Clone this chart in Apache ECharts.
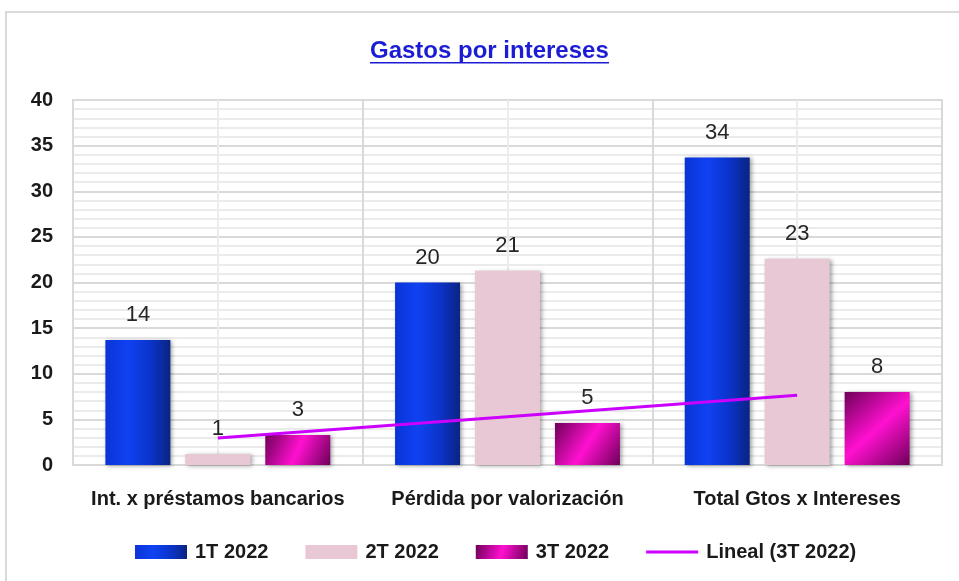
<!DOCTYPE html>
<html>
<head>
<meta charset="utf-8">
<script src="https://cdn.jsdelivr.net/npm/echarts@6/dist/echarts.min.js"></script>
<style>
html,body{margin:0;padding:0;background:#fff;}
#chart{width:959px;height:581px;}
</style>
</head>
<body>
<div id="chart"></div>
<script>
const categories = ['Int. x préstamos bancarios', 'Pérdida por valorización', 'Total Gtos x Intereses'];
const q1 = [13.7, 20.0, 33.7];
const q2 = [1.2, 21.3, 22.6];
const q3 = [3.3, 4.6, 8.0];
const seriesNames = ['1T 2022', '2T 2022', '3T 2022', 'Lineal (3T 2022)'];
const yTicks = { min: 0, max: 40, interval: 5 };

// linear regression trend line of 3T values (like Excel "Lineal")
function linearTrend(vals) {
  const n = vals.length;
  let sx = 0, sy = 0, sxy = 0, sxx = 0;
  vals.forEach((v, i) => { const x = i + 1; sx += x; sy += v; sxy += x * v; sxx += x * x; });
  const b = (n * sxy - sx * sy) / (n * sxx - sx * sx);
  const a = (sy - b * sx) / n;
  return vals.map((v, i) => +(a + b * (i + 1)).toFixed(3));
}
const trend = linearTrend(q3);

const FONT = '"Liberation Sans", Arial, sans-serif';

const blueGrad = new echarts.graphic.LinearGradient(0, 0, 1, 0, [
  { offset: 0, color: '#0a34d6' },
  { offset: 0.35, color: '#1042f2' },
  { offset: 0.7, color: '#0b33c8' },
  { offset: 1, color: '#0a2482' }
]);
const pink = '#e8c8d4';
const magGrad = new echarts.graphic.LinearGradient(0, 0, 1, 1, [
  { offset: 0, color: '#6e0058' },
  { offset: 0.5, color: '#ff10d0' },
  { offset: 1, color: '#6e0058' }
]);

const shadow = { shadowColor: 'rgba(0,0,0,0.35)', shadowBlur: 4, shadowOffsetX: 2, shadowOffsetY: 1 };
const labelStyle = {
  show: true, position: 'top', distance: 14,
  fontFamily: FONT, fontSize: 22, color: '#262626',
  formatter: p => Math.round(p.value)
};

const chart = echarts.init(document.getElementById('chart'), null, { renderer: 'canvas' });
chart.setOption({
  animation: false,
  backgroundColor: '#fff',
  graphic: [
    { type: 'rect', shape: { x: 6, y: 12, width: 1000, height: 1000 }, style: { fill: 'none', stroke: '#d9d9d9', lineWidth: 2 }, silent: true, z: -1 },
    { type: 'text', left: 370, top: 39, style: { text: 'Gastos por intereses', fontFamily: FONT, fontSize: 24, fontWeight: 'bold', fill: '#1c1cd4' } },
    { type: 'rect', shape: { x: 370, y: 62, width: 239, height: 1.5 }, style: { fill: '#1c1cd4' }, silent: true }
  ],
  grid: { left: 73, right: 17, top: 100, bottom: 116, show: true, borderColor: '#d9d9d9', borderWidth: 2, containLabel: false },
  legend: {
    top: 537, left: 130,
    itemWidth: 52, itemHeight: 14, itemGap: 37,
    textStyle: { fontFamily: FONT, fontSize: 20, fontWeight: 'bold', color: '#1a1a1a', padding: [0, 0, 0, 3] },
    data: [
      { name: seriesNames[0], icon: 'rect' },
      { name: seriesNames[1], icon: 'rect' },
      { name: seriesNames[2], icon: 'rect' },
      { name: seriesNames[3], icon: 'path://M0,0H52V3H0Z' }
    ]
  },
  xAxis: [
    {
      type: 'category', data: categories,
      axisLine: { show: false }, axisTick: { show: false },
      splitLine: { show: false },
      axisLabel: { margin: 24, fontFamily: FONT, fontSize: 20, fontWeight: 'bold', color: '#1a1a1a', interval: 0 }
    },
    {
      type: 'value', min: 0, max: 3, interval: 1, position: 'top',
      axisLine: { show: false }, axisTick: { show: false }, axisLabel: { show: false },
      splitLine: { show: true, lineStyle: { color: '#d9d9d9', width: 2 } },
      minorTick: { show: false, splitNumber: 2 },
      minorSplitLine: { show: true, lineStyle: { color: '#ececec', width: 2 } }
    }
  ],
  yAxis: {
    type: 'value', min: yTicks.min, max: yTicks.max, interval: yTicks.interval,
    axisLine: { show: false }, axisTick: { show: false },
    axisLabel: { margin: 20, fontFamily: FONT, fontSize: 20, fontWeight: 'bold', color: '#1a1a1a' },
    splitLine: { show: true, lineStyle: { color: '#d9d9d9', width: 2 } },
    minorTick: { show: false, splitNumber: 5 },
    minorSplitLine: { show: true, lineStyle: { color: '#ebebeb', width: 2 } }
  },
  series: [
    { name: seriesNames[0], type: 'bar', data: q1, barWidth: 65, barGap: '23%', itemStyle: Object.assign({ color: blueGrad }, shadow), label: labelStyle },
    { name: seriesNames[1], type: 'bar', data: q2, barWidth: 65, barGap: '23%', itemStyle: Object.assign({ color: pink }, shadow), label: labelStyle },
    { name: seriesNames[2], type: 'bar', data: q3, barWidth: 65, barGap: '23%', itemStyle: Object.assign({ color: magGrad }, shadow), label: labelStyle },
    { name: seriesNames[3], type: 'line', data: trend, symbol: 'none', lineStyle: { color: '#cc00ff', width: 3 }, itemStyle: { color: '#cc00ff' }, z: 5 }
  ]
});
</script>
</body>
</html>
